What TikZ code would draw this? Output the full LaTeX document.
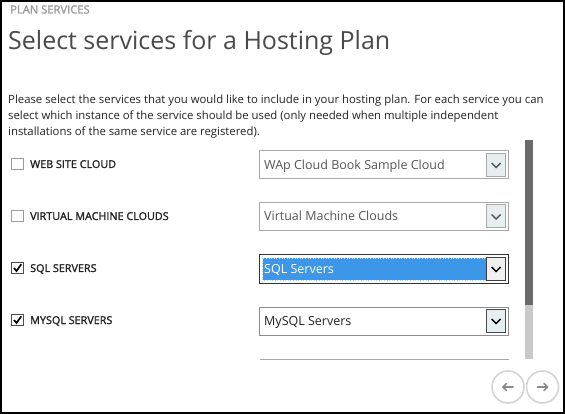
\documentclass[tikz,border=0pt]{standalone}
\usepackage{fontspec}
\setmainfont{Open Sans}
\newfontfamily\semib[FakeBold=1.6]{Open Sans}
\definecolor{hdrgray}{HTML}{9A9A9A}
\definecolor{titlegray}{HTML}{4A4A4A}
\definecolor{txt}{HTML}{222222}
\definecolor{ddtxt}{HTML}{555555}
\definecolor{boxline}{HTML}{A8A8A8}
\definecolor{btnfill}{HTML}{E6EEF0}
\definecolor{selblue}{HTML}{3D97E8}
\definecolor{scrolldark}{HTML}{6B6B6B}
\definecolor{scrolllight}{HTML}{C9C9C9}
\definecolor{navline}{HTML}{D4D4D4}
\definecolor{navarrow}{HTML}{8A8A8A}
\definecolor{cbline}{HTML}{9A9A9A}
\tikzset{
  lbl/.style={inner sep=0pt, anchor=base west},
  para/.style={lbl, font=\fontsize{11.35}{13}\selectfont, text=txt},
  cblabel/.style={lbl, font=\semib\fontsize{10.8}{12}\selectfont, text=txt},
  ddlabel/.style={lbl, font=\fontsize{12.5}{14}\selectfont},
  cbox/.style={draw=cbline, line width=0.9pt, fill=white, minimum size=11.5pt, inner sep=0pt},
  cboxon/.style={cbox, draw=black!70},
  ddbox/.style={draw=boxline, line width=1pt, minimum width=249pt, minimum height=28pt, inner sep=0pt},
  ddbtn/.style={draw=boxline, line width=1pt, fill=btnfill, minimum width=18.5pt, minimum height=23pt, inner sep=0pt},
  chev/.style={line width=1.4pt},
  tick/.style={line width=1.7pt, black},
  navc/.style={circle, draw=navline, line width=1.6pt, minimum size=32pt, inner sep=0pt},
  navarr/.style={navarrow, line width=1.5pt, line cap=round, line join=round},
}
\begin{document}
\begin{tikzpicture}[x=1pt, y=-1pt]
\useasboundingbox (0,0) rectangle (565,414);
\fill[white] (0,0) rectangle (565,414);
% header and title
\node[lbl, font=\semib\fontsize{11.2}{13}\selectfont, text=hdrgray] (hdr) at (10,13.5) {PLAN SERVICES};
\node[lbl, font=\fontsize{25}{29}\selectfont, text=titlegray] (title) at (8,50) {Select services for a Hosting Plan};
% paragraph
\node[para] (p1) at (8,104) {Please select the services that you would like to include in your hosting plan. For each service you can};
\node[para] (p2) at (8,120) {select which instance of the service should be used (only needed when multiple independent};
\node[para] (p3) at (8,136) {installations of the same service are registered).};
% checkboxes
\node[cbox] (cb1) at (17.5,164) {};
\node[cblabel] (l1) at (30,168) {WEB SITE CLOUD};
\node[cbox] (cb2) at (17.5,216) {};
\node[cblabel] (l2) at (30,220) {VIRTUAL MACHINE CLOUDS};
\node[cboxon] (cb3) at (17.5,268) {};
\draw[tick] ([shift={(-3.5,0)}]cb3.center) -- ([shift={(-1,3)}]cb3.center) -- ([shift={(3.8,-3.8)}]cb3.center);
\node[cblabel] (l3) at (30,272) {SQL SERVERS};
\node[cboxon] (cb4) at (17.5,320) {};
\draw[tick] ([shift={(-3.5,0)}]cb4.center) -- ([shift={(-1,3)}]cb4.center) -- ([shift={(3.8,-3.8)}]cb4.center);
\node[cblabel] (l4) at (30,324) {MYSQL SERVERS};
% dropdown 1
\node[ddbox] (dd1) at (384,165) {};
\node[ddlabel, text=ddtxt] (t1) at (264,169.5) {WAp Cloud Book Sample Cloud};
\node[ddbtn] (b1) at (496.2,165) {};
\draw[chev, ddtxt] ([shift={(-4.5,-2)}]b1.center) -- ([shift={(0,2.5)}]b1.center) -- ([shift={(4.5,-2)}]b1.center);
% dropdown 2
\node[ddbox] (dd2) at (384,216.5) {};
\node[ddlabel, text=ddtxt] (t2) at (264,221) {Virtual Machine Clouds};
\node[ddbtn] (b2) at (496.2,216.5) {};
\draw[chev, ddtxt] ([shift={(-4.5,-2)}]b2.center) -- ([shift={(0,2.5)}]b2.center) -- ([shift={(4.5,-2)}]b2.center);
% dropdown 3 (selected)
\node[ddbox, draw=black!80] (dd3) at (384,269) {};
\fill[selblue] (262.7,258.3) rectangle (486,280);
\draw[white!60!selblue, dotted, line width=0.6pt] (262.7,258.3) rectangle (486,280);
\node[ddlabel, text=white] (t3) at (264,273.5) {SQL Servers};
\node[ddbtn, draw=black!75, fill=white!94!black] (b3) at (496.2,269) {};
\draw[chev, black] ([shift={(-4.5,-2)}]b3.center) -- ([shift={(0,2.5)}]b3.center) -- ([shift={(4.5,-2)}]b3.center);
% dropdown 4
\node[ddbox, draw=black!45] (dd4) at (384,321) {};
\node[ddlabel, text=txt] (t4) at (264,325.5) {MySQL Servers};
\node[ddbtn, draw=black!70] (b4) at (496.2,321) {};
\draw[chev, black] ([shift={(-4.5,-2)}]b4.center) -- ([shift={(0,2.5)}]b4.center) -- ([shift={(4.5,-2)}]b4.center);
% dropdown 5 (cut off)
\coordinate (d5l) at (259.5,359.5);
\coordinate (d5r) at (508.5,359.5);
\draw[boxline, line width=1pt] (d5l) -- (d5r);
% scrollbar
\fill[scrolldark] (525,140) rectangle (533,305);
\fill[scrolllight] (525,305) rectangle (533,359);
% navigation buttons
\node[navc] (back) at (508,387) {};
\node[navc] (next) at (542.5,387) {};
\draw[navarr] ([shift={(5,0)}]back.center) -- ([shift={(-5,0)}]back.center);
\draw[navarr] ([shift={(-1.5,-3.5)}]back.center) -- ([shift={(-5,0)}]back.center) -- ([shift={(-1.5,3.5)}]back.center);
\draw[navarr] ([shift={(-5,0)}]next.center) -- ([shift={(5,0)}]next.center);
\draw[navarr] ([shift={(1.5,-3.5)}]next.center) -- ([shift={(5,0)}]next.center) -- ([shift={(1.5,3.5)}]next.center);
% outer frame
\draw[black, line width=2pt] (1,1) rectangle (564,413);
\end{tikzpicture}
\end{document}
